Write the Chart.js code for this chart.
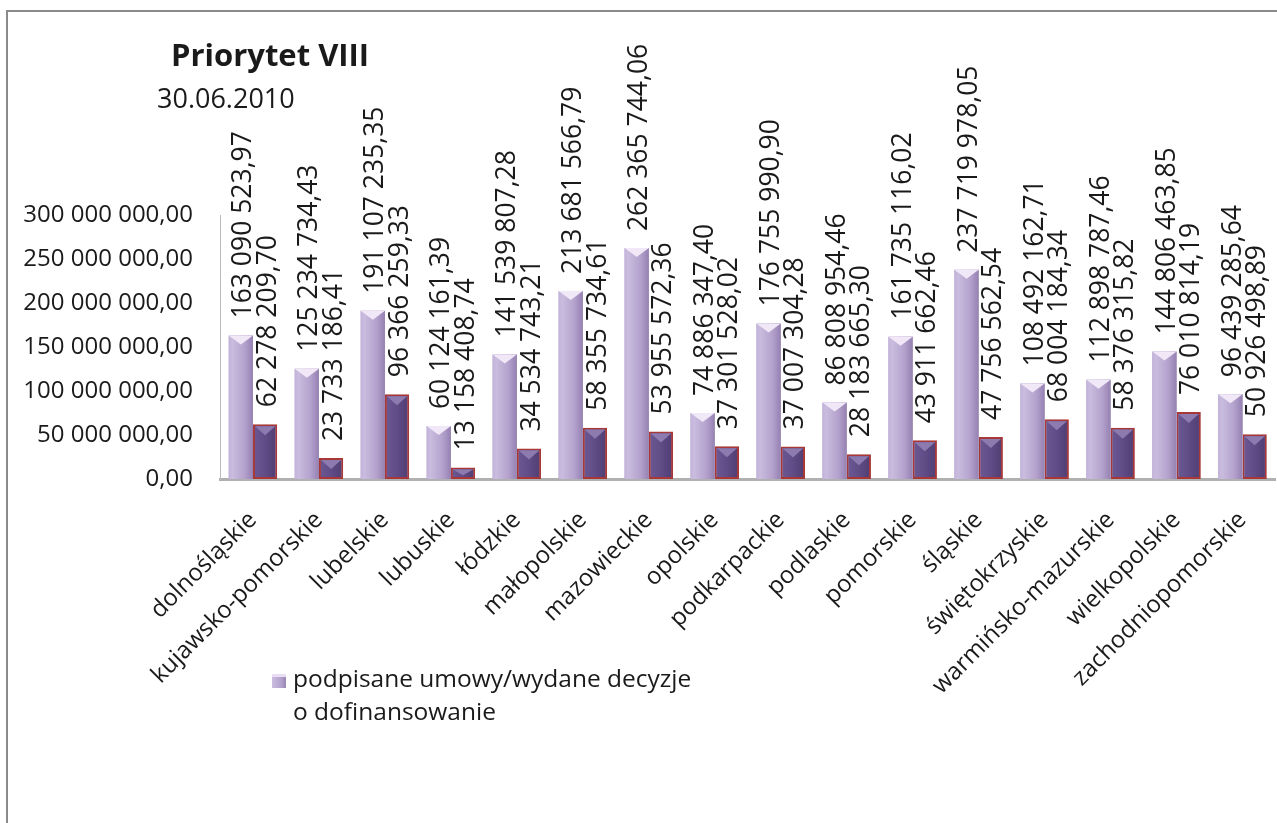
<!DOCTYPE html>
<html>
<head>
<meta charset="utf-8">
<script src="https://cdn.jsdelivr.net/npm/chart.js@4/dist/chart.umd.min.js"></script>
<style>
	html,body{margin:0;padding:0;background:#fff;overflow:hidden;width:1277px;height:823px;}
	#frame{position:absolute;left:6px;top:10px;width:1400px;height:900px;border-top:2px solid #8a8a8a;border-left:2px solid #8a8a8a;}
	#wrap{position:absolute;left:0;top:0;}
	.txt{position:absolute;font-family:"Open Sans",sans-serif;color:#1a1a1a;white-space:nowrap;}
	#title{left:171px;top:33px;font-size:31px;font-weight:bold;}
	#subtitle{left:157px;top:79px;font-size:27px;}
	#legend{left:272px;top:661px;font-size:24.5px;line-height:33px;}
	#legend .box{display:inline-block;width:14px;height:14px;margin-right:7px;vertical-align:-1px;
		background:linear-gradient(90deg,#cbbde0,#b2a0cc 70%,#9684b2);border-top:3px solid #e9def3;box-sizing:border-box;}
	#legend .l2{padding-left:21px;}
</style>
</head>
<body>
<div id="frame"></div>
<div id="wrap"><canvas id="chartBar" width="1290" height="823"></canvas></div>
<div class="txt" id="title">Priorytet VIII</div>
<div class="txt" id="subtitle">30.06.2010</div>
<div class="txt" id="legend"><div><span class="box"></span>podpisane umowy/wydane decyzje</div><div class="l2">o dofinansowanie</div></div>
<script>
	//DATA
	var categories=["dolnośląskie","kujawsko-pomorskie","lubelskie","lubuskie","łódzkie","małopolskie","mazowieckie","opolskie","podkarpackie","podlaskie","pomorskie","śląskie","świętokrzyskie","warmińsko-mazurskie","wielkopolskie","zachodniopomorskie"];
	var signedValues=[163090523.97,125234734.43,191107235.35,60124161.39,141539807.28,213681566.79,262365744.06,74886347.40,176755990.90,86808954.46,161735116.02,237719978.05,108492162.71,112898787.46,144806463.85,96439285.64];
	var paidValues=[62278209.70,23733186.41,96366259.33,13158408.74,34534743.21,58355734.61,53955572.36,37301528.02,37007304.28,28183665.30,43911662.46,47756562.54,68004184.34,58376315.82,76010814.19,50926498.89];
	var signedLabel="podpisane umowy/wydane decyzje o dofinansowanie";
	var paidLabel="płatności";
	var yTicks=[0,50000000,100000000,150000000,200000000,250000000,300000000];

	var FONT="'Open Sans', sans-serif";

	//FORMAT NUMBER 1234567.8 -> 1 234 567,80
	function fmt(v){
		var p=v.toFixed(2).split(".");
		return p[0].replace(/\B(?=(\d{3})+(?!\d))/g," ")+","+p[1];
	}

	//PLUGIN TO SHADE BARS AND WRITE VALUES ABOVE THEM
	var barLook={
		id:"barLook",
		afterDatasetsDraw:function(chart){
			var ctx=chart.ctx;
			chart.data.datasets.forEach(function(ds,di){
				var meta=chart.getDatasetMeta(di);
				meta.data.forEach(function(bar,i){
					var w=bar.width, l=bar.x-w/2, r=bar.x+w/2, t=bar.y, b=bar.base;
					var g=ctx.createLinearGradient(l,0,r,0);
					var inset=di===1?2:0;
					if(di===0){
						g.addColorStop(0,"#c2b3d9");g.addColorStop(0.15,"#c9bcde");
						g.addColorStop(0.65,"#b4a2cd");g.addColorStop(0.88,"#a08cbb");g.addColorStop(1,"#9482b0");
					}else{
						g.addColorStop(0,"#6c5892");g.addColorStop(0.5,"#604c86");g.addColorStop(1,"#4f3d72");
					}
					ctx.save();
					ctx.fillStyle=g;
					ctx.fillRect(l+inset,t+inset,w-2*inset,b-t-2*inset);
					//top bevel
					var cap=Math.min(9,(b-t)/2);
					ctx.beginPath();
					ctx.moveTo(l+inset,t+inset);ctx.lineTo(r-inset,t+inset);ctx.lineTo(bar.x,t+inset+cap);ctx.closePath();
					ctx.fillStyle=di===0?"#f1e8f7":"#8d7bb0";
					ctx.fill();
					ctx.restore();

					//value label
					ctx.save();
					ctx.translate(bar.x+3,t-17);
					ctx.rotate(-Math.PI/2);
					ctx.font="26.5px "+FONT;
					ctx.fillStyle="#1a1a1a";
					ctx.textAlign="left";
					ctx.textBaseline="middle";
					ctx.fillText(fmt(ds.data[i]),0,0);
					ctx.restore();
				});
			});
		}
	};

	var ctx=document.getElementById("chartBar");
	var myBarChart=new Chart(ctx,{
		type:"bar",
		data:{
			labels:categories,
			datasets:[
				{label:signedLabel,data:signedValues,backgroundColor:"#b3a3cb",borderWidth:0,
					barPercentage:1,categoryPercentage:0.735},
				{label:paidLabel,data:paidValues,backgroundColor:"#5c4880",borderColor:"#a83838",borderWidth:2,borderSkipped:false,
					barPercentage:1,categoryPercentage:0.735}
			]
		},
		options:{
			responsive:false,
			animation:false,
			devicePixelRatio:1,
			layout:{padding:{top:215,right:3,bottom:0,left:0}},
			plugins:{legend:{display:false},tooltip:{enabled:false},title:{display:false}},
			scales:{
				x:{
					grid:{display:false,drawTicks:false},
					border:{display:true,color:"#b0b0b0",width:3},
					ticks:{autoSkip:false,minRotation:45,maxRotation:45,padding:27,color:"#1a1a1a",font:{family:FONT,size:24}},
					afterFit:function(scale){scale.height=344;}
				},
				y:{
					min:0,max:300000000,
					grid:{display:false,drawTicks:false},
					border:{display:true,color:"#bdbdbd",width:1},
					ticks:{stepSize:50000000,padding:27,color:"#1a1a1a",font:{family:FONT,size:24},
						callback:function(v){return yTicks.indexOf(v)>=0?fmt(v):"";}},
					afterFit:function(scale){scale.width=220;}
				}
			}
		},
		plugins:[barLook]
	});
</script>
</body>
</html>
